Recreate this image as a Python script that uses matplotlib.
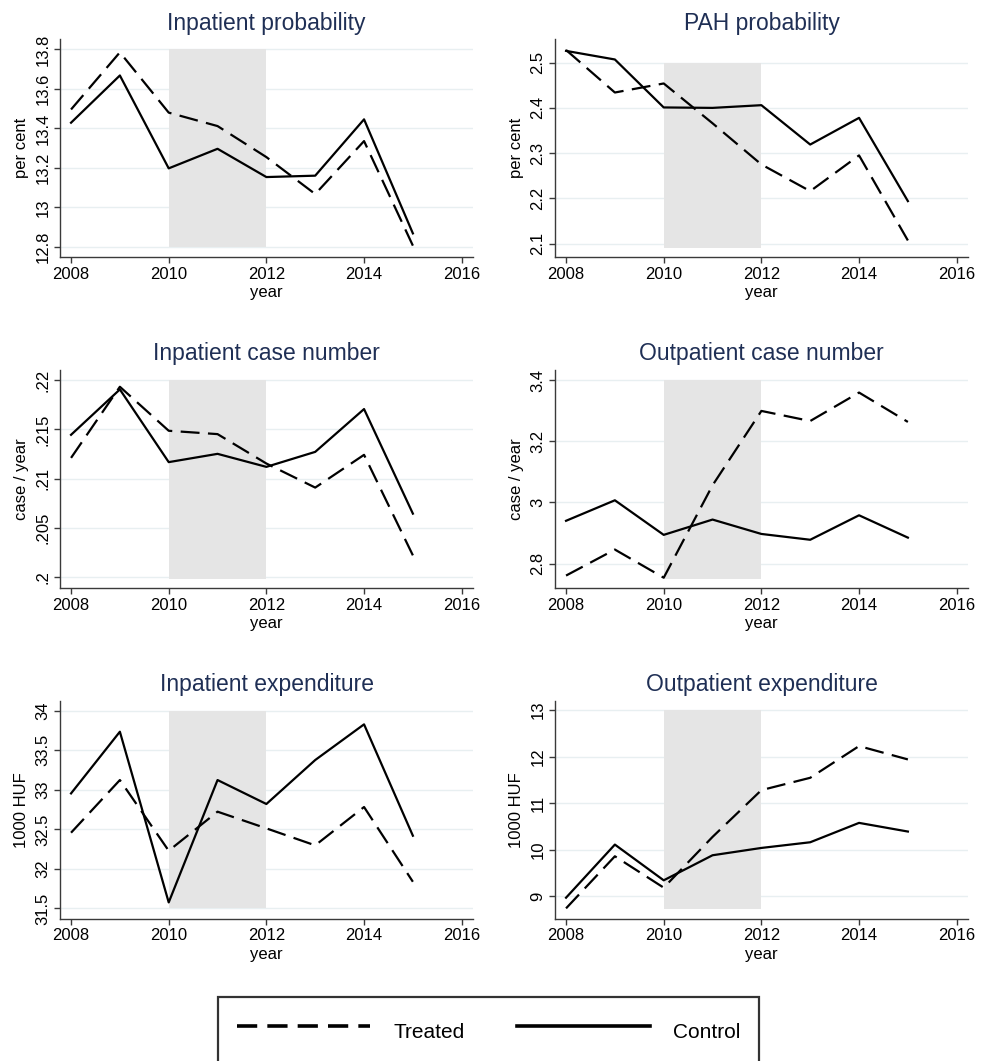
import numpy as np
import matplotlib
matplotlib.use("Agg")
import matplotlib.pyplot as plt
from matplotlib.lines import Line2D

plt.rcParams['font.family'] = ['Liberation Sans', 'DejaVu Sans']

years = [2008, 2009, 2010, 2011, 2012, 2013, 2014, 2015]

# Inpatient probability (per cent)
inp_prob_treated = [13.496, 13.785, 13.480, 13.412, 13.255, 13.068, 13.336, 12.807]
inp_prob_control = [13.429, 13.668, 13.198, 13.297, 13.154, 13.161, 13.446, 12.869]

# PAH probability (per cent)
pah_prob_treated = [2.528, 2.434, 2.454, 2.366, 2.275, 2.216, 2.295, 2.107]
pah_prob_control = [2.526, 2.507, 2.401, 2.400, 2.406, 2.319, 2.378, 2.194]

# Inpatient case number (case / year)
inp_case_treated = [0.21211, 0.21932, 0.21486, 0.21452, 0.21154, 0.20910, 0.21242, 0.20223]
inp_case_control = [0.21445, 0.21905, 0.21168, 0.21252, 0.21120, 0.21272, 0.21706, 0.20646]

# Outpatient case number (case / year)
out_case_treated = [2.761, 2.846, 2.754, 3.056, 3.299, 3.266, 3.359, 3.263]
out_case_control = [2.940, 3.007, 2.894, 2.944, 2.897, 2.878, 2.958, 2.885]

# Inpatient expenditure (1000 HUF)
inp_exp_treated = [32.457, 33.123, 32.229, 32.723, 32.512, 32.297, 32.782, 31.837]
inp_exp_control = [32.954, 33.734, 31.576, 33.123, 32.820, 33.376, 33.827, 32.419]

# Outpatient expenditure (1000 HUF)
out_exp_treated = [8.742, 9.860, 9.186, 10.276, 11.280, 11.545, 12.226, 11.939]
out_exp_control = [8.971, 10.111, 9.344, 9.882, 10.039, 10.161, 10.577, 10.391]

titles = ['Inpatient probability', 'PAH probability',
          'Inpatient case number', 'Outpatient case number',
          'Inpatient expenditure', 'Outpatient expenditure']
ylabels = ['per cent', 'per cent', 'case / year', 'case / year', '1000 HUF', '1000 HUF']
treated = [inp_prob_treated, pah_prob_treated, inp_case_treated,
           out_case_treated, inp_exp_treated, out_exp_treated]
control = [inp_prob_control, pah_prob_control, inp_case_control,
           out_case_control, inp_exp_control, out_exp_control]

yticks = [[12.8, 13.0, 13.2, 13.4, 13.6, 13.8],
          [2.1, 2.2, 2.3, 2.4, 2.5],
          [0.2, 0.205, 0.21, 0.215, 0.22],
          [2.8, 3.0, 3.2, 3.4],
          [31.5, 32.0, 32.5, 33.0, 33.5, 34.0],
          [9, 10, 11, 12, 13]]
yticklabels = [['12.8', '13', '13.2', '13.4', '13.6', '13.8'],
               ['2.1', '2.2', '2.3', '2.4', '2.5'],
               ['.2', '.205', '.21', '.215', '.22'],
               ['2.8', '3', '3.2', '3.4'],
               ['31.5', '32', '32.5', '33', '33.5', '34'],
               ['9', '10', '11', '12', '13']]
ylims = [(12.748, 13.851), (2.0698, 2.5516), (0.19892, 0.22102),
         (2.7204, 3.4327), (31.37, 34.126), (8.52, 13.2)]
# reform period shading, 2010-2012
shade_years = [2010, 2012]
shade_lo = [12.8, 2.091, 0.19986, 2.751, 31.5, 8.728]
shade_hi = [13.8, 2.5, 0.22, 3.4, 34.0, 13.0]

xticks = [2008, 2010, 2012, 2014, 2016]

W, H = 989, 1061
col_left = [60.3, 555.3]
row_top = [39.3, 370.0, 700.7]
ax_w, ax_h = 412.4, 218.0

title_color = '#1f2f55'
spine_color = '#3a3a3a'
grid_color = '#e8eff1'


def draw_panel(fig, idx):
    r, c = divmod(idx, 2)
    x0 = col_left[c] / W
    y0 = 1 - (row_top[r] + ax_h) / H
    ax = fig.add_axes([x0, y0, ax_w / W, ax_h / H])
    ax.set_xlim(2007.78, 2016.225)
    ax.set_ylim(*ylims[idx])
    for t in yticks[idx]:
        ax.axhline(t, color=grid_color, lw=1.0, zorder=0)
    ax.fill_between(shade_years, shade_lo[idx], shade_hi[idx],
                    color='#e5e5e5', lw=0, zorder=1)
    ax.plot(years, treated[idx], color='black', lw=1.6,
            dashes=(8.5, 3.8), zorder=3)
    ax.plot(years, control[idx], color='black', lw=1.6, zorder=3)
    ax.spines['top'].set_visible(False)
    ax.spines['right'].set_visible(False)
    for s in ['left', 'bottom']:
        ax.spines[s].set_color(spine_color)
        ax.spines[s].set_linewidth(1.0)
    ax.set_xticks(xticks)
    ax.set_xticklabels([str(x) for x in xticks])
    ax.set_yticks(yticks[idx])
    ax.set_yticklabels(yticklabels[idx], rotation=90, va='center')
    ax.tick_params(direction='out', length=4, width=1.0, color=spine_color,
                   labelsize=12, pad=3)
    ax.set_xlabel('year', fontsize=12, labelpad=2.5)
    ax.set_ylabel(ylabels[idx], fontsize=12)
    ax.yaxis.set_label_coords(-0.077, 0.5)
    ax.set_title(titles[idx], fontsize=16.5, color=title_color, pad=7)
    return ax


fig = plt.figure(figsize=(W / 100, H / 100), dpi=100)
for i in range(6):
    draw_panel(fig, i)

h_treated = Line2D([], [], color='black', lw=2.6, dashes=(5.6, 2.8))
h_control = Line2D([], [], color='black', lw=2.6)
leg = fig.legend([h_treated, h_control], ['Treated', 'Control'],
                 loc='upper center', bbox_to_anchor=(488.6 / W, 1 - 996.7 / H),
                 ncol=2, fontsize=15, frameon=True, fancybox=False,
                 edgecolor='black', borderpad=0.9, handlelength=6.4,
                 handleheight=1.9, handletextpad=1.1, columnspacing=2.5,
                 borderaxespad=0)
leg.get_frame().set_linewidth(1.6)
leg.get_frame().set_edgecolor('#000000')

fig.savefig('out.png', dpi=100)
